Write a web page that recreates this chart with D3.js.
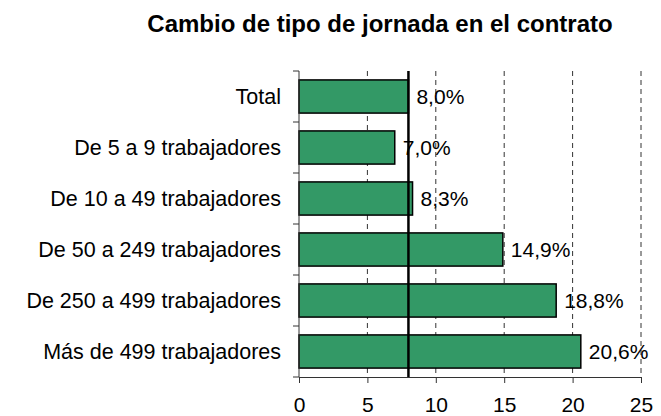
<!DOCTYPE html>
<html>
<head>
<meta charset="utf-8">
<script src="https://cdn.jsdelivr.net/npm/d3@7"></script>
<style>
  body { margin: 0; background: #fff; }
  text { font-family: Arial, "Liberation Sans", sans-serif; fill: #000; }
</style>
</head>
<body>
<div id="chart"></div>
<script>
// data
const categories = [
  "Total",
  "De 5 a 9 trabajadores",
  "De 10 a 49 trabajadores",
  "De 50 a 249 trabajadores",
  "De 250 a 499 trabajadores",
  "Más de 499 trabajadores"
];
const values = [8.0, 7.0, 8.3, 14.9, 18.8, 20.6];
const xTicks = [0, 5, 10, 15, 20, 25];
const refValue = 8.0;
const title = "Cambio de tipo de jornada en el contrato";

const width = 661, height = 416;
const margin = {top: 71, right: 20, bottom: 39, left: 299};
const innerW = width - margin.left - margin.right;
const innerH = height - margin.top - margin.bottom;

const svg = d3.select("#chart").append("svg")
  .attr("width", width)
  .attr("height", height);

svg.append("text")
  .attr("x", 380)
  .attr("y", 32)
  .attr("text-anchor", "middle")
  .style("font-size", "24px")
  .style("font-weight", "bold")
  .text(title);

const g = svg.append("g").attr("transform", `translate(${margin.left},${margin.top})`);

const x = d3.scaleLinear().domain([0, 25]).range([0, innerW]);
const y = d3.scaleBand().domain(categories).range([0, innerH])
  .paddingInner(0.35).paddingOuter(0.175);

// dashed gridlines
g.selectAll(".grid")
  .data(xTicks.filter(d => d > 0))
  .enter().append("line")
  .attr("x1", d => x(d)).attr("x2", d => x(d))
  .attr("y1", 0).attr("y2", innerH)
  .attr("stroke", "#333")
  .attr("stroke-width", 1)
  .attr("stroke-dasharray", "5,4");

// bars
g.selectAll(".bar")
  .data(values)
  .enter().append("rect")
  .attr("x", x(0))
  .attr("y", (d, i) => y(categories[i]))
  .attr("width", d => x(d) - x(0))
  .attr("height", y.bandwidth())
  .attr("fill", "#339966")
  .attr("stroke", "#000")
  .attr("stroke-width", 1.5);

// value labels
g.selectAll(".val")
  .data(values)
  .enter().append("text")
  .attr("x", d => x(d) + 8)
  .attr("y", (d, i) => y(categories[i]) + y.bandwidth() / 2)
  .attr("dy", "0.35em")
  .style("font-size", "21px")
  .text(d => d.toFixed(1).replace(".", ",") + "%");

// reference line at the total
g.append("line")
  .attr("x1", x(refValue)).attr("x2", x(refValue))
  .attr("y1", 0).attr("y2", innerH)
  .attr("stroke", "#000")
  .attr("stroke-width", 2.5);

// y axis with ticks at band boundaries
g.append("line")
  .attr("x1", 0).attr("x2", 0)
  .attr("y1", 0).attr("y2", innerH)
  .attr("stroke", "#333");
const bounds = d3.range(categories.length + 1).map(i => i * y.step());
g.selectAll(".ytick")
  .data(bounds)
  .enter().append("line")
  .attr("x1", -6).attr("x2", 0)
  .attr("y1", d => d).attr("y2", d => d)
  .attr("stroke", "#333");
g.selectAll(".cat")
  .data(categories)
  .enter().append("text")
  .attr("x", -18)
  .attr("y", d => y(d) + y.bandwidth() / 2)
  .attr("dy", "0.35em")
  .attr("text-anchor", "end")
  .style("font-size", "21.5px")
  .text(d => d);

// x axis
const xAxis = g.append("g")
  .attr("transform", `translate(0,${innerH})`)
  .call(d3.axisBottom(x).tickValues(xTicks).tickSize(6).tickPadding(14).tickSizeOuter(0));
xAxis.select(".domain").attr("stroke", "#333");
xAxis.selectAll(".tick line").attr("stroke", "#333");
xAxis.selectAll(".tick text")
  .style("font-size", "21px")
  .style("font-family", "Arial, 'Liberation Sans', sans-serif")
  .attr("fill", "#000");
</script>
</body>
</html>
